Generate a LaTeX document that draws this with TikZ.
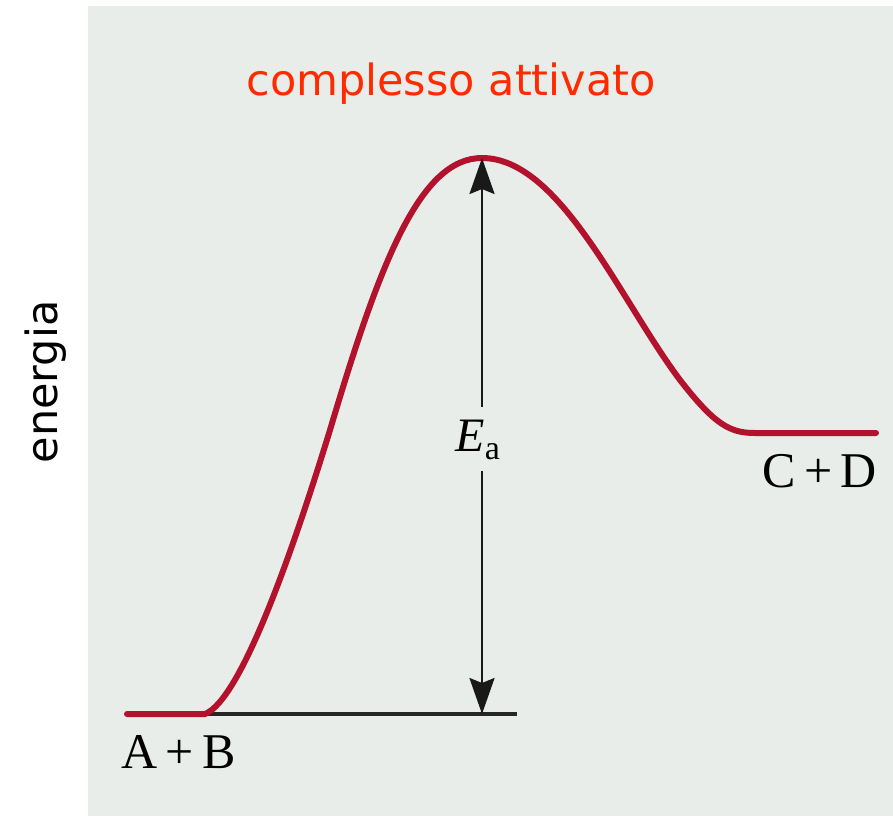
\documentclass[tikz,border=0pt]{standalone}
\usepackage{fontspec}
\setmainfont{Liberation Serif}
\newfontfamily\labelsans{DejaVu Sans}
\usetikzlibrary{arrows.meta}
\definecolor{bggray}{HTML}{E9EDE9}
\definecolor{curvered}{HTML}{B3122C}
\definecolor{titlered}{HTML}{FF2A00}
\tikzset{
  curve/.style={draw=curvered, line width=6pt, line cap=round},
  baseline/.style={draw=black!85, line width=3.2pt},
  eaarrow/.style={draw=black!90, line width=2.4pt, -{Stealth[length=36pt,width=25pt,inset=5pt]}},
  species/.style={font=\fontsize{50}{54}\selectfont, inner sep=0pt},
  sanslabel/.style={font=\labelsans\fontsize{43}{48}\selectfont, inner sep=0pt}
}
\begin{document}
\begin{tikzpicture}[x=1pt,y=-1pt]
\useasboundingbox (0,0) rectangle (893,816);
\fill[bggray] (88,6) rectangle (893,816);
% key points
\coordinate (start) at (127,714);
\coordinate (rise) at (205,714);
\coordinate (peak) at (482,158);
\coordinate (fall) at (755,433);
\coordinate (finish) at (876,433);
\coordinate (baseend) at (517,714);
\coordinate (basearrow) at (482,714);
\coordinate (shafttop) at (482,407);
\coordinate (shaftbottom) at (482,471);
% baseline
\draw[baseline] (rise) -- (baseend);
% curve
\draw[curve] (start) -- (rise)
  .. controls (240,700) and (290,560) .. (330,430)
  .. controls (380,262) and (420,158) .. (peak)
  .. controls (560,158) and (620,300) .. (680,380)
  .. controls (715,425) and (730,433) .. (fall) -- (finish);
% Ea label and arrow
\node[species, font=\fontsize{48}{52}\selectfont] (ea) at (478,440) {\textit{E}\textsubscript{\fontsize{34}{36}\selectfont a}};
\draw[eaarrow] (shafttop) -- (peak);
\draw[eaarrow] (shaftbottom) -- (basearrow);
% species labels
\node[species, anchor=west] (ab) at (121,752) {A\,+\,B};
\node[species, anchor=east] (cd) at (877,471) {C\,+\,D};
% titles
\node[sanslabel, text=titlered] (complesso) at (451,84) {complesso attivato};
\node[sanslabel, rotate=90] (energia) at (46,382) {energia};
\end{tikzpicture}
\end{document}
